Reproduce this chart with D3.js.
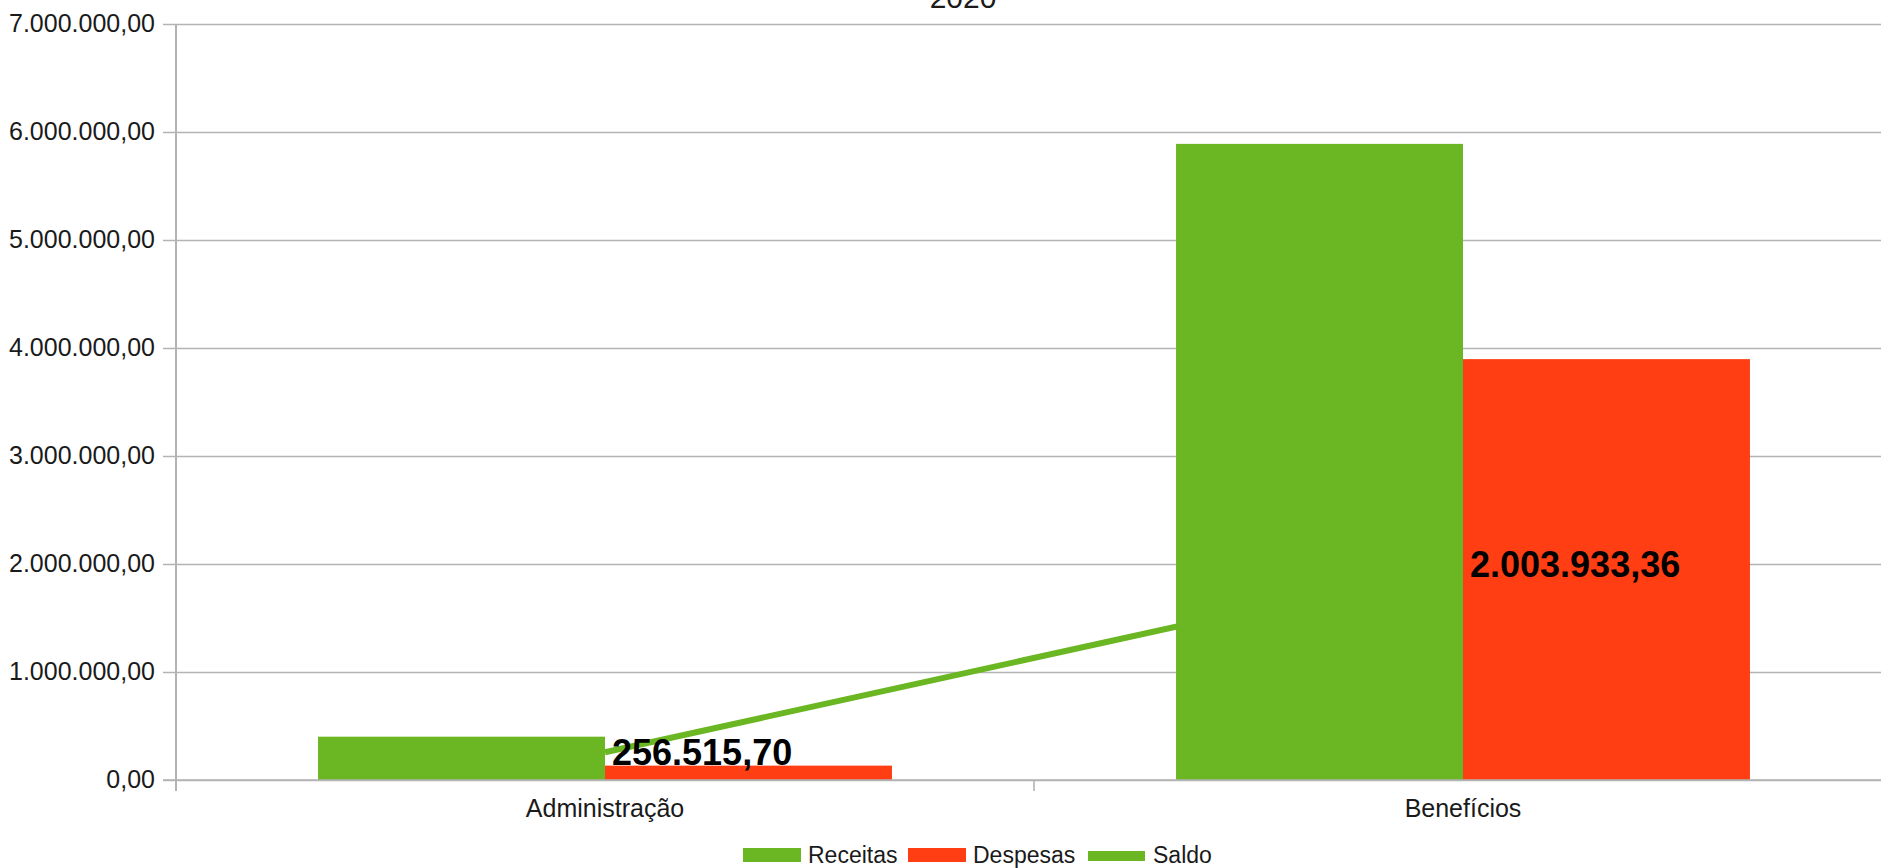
<!DOCTYPE html>
<html>
<head>
<meta charset="utf-8">
<script src="https://cdn.jsdelivr.net/npm/d3@7"></script>
<style>
  html, body { margin: 0; padding: 0; background: #fff; }
  svg { display: block; font-family: "Liberation Sans", Arial, sans-serif; }
</style>
</head>
<body>
<svg id="chart" width="1881" height="868"></svg>
<script>
const title = "2020";
const categories = ["Administração", "Benefícios"];
const seriesNames = ["Receitas", "Despesas", "Saldo"];
const receitas = [401000, 5890000];
const despesas = [133000, 3897000];
const saldo = [256515.70, 2003933.36];
const saldoLabels = ["256.515,70", "2.003.933,36"];
const yTicks = [0, 1000000, 2000000, 3000000, 4000000, 5000000, 6000000, 7000000];
const colors = { Receitas: "#6ab723", Despesas: "#ff3e13", Saldo: "#6ab723" };

(function () {
const svg = d3.select("#chart");
const pLeft = 176, pRight = 1892, pTop = 24, pBottom = 780;

const locale = d3.formatLocale({ decimal: ",", thousands: ".", grouping: [3], currency: ["R$ ", ""] });
const fmt = locale.format(",.2f");

const y = d3.scaleLinear().domain([0, 7000000]).range([pBottom, pTop]);
const x = d3.scaleBand().domain(categories).range([pLeft, pRight]).paddingInner(0).paddingOuter(0);
const xs = d3.scaleBand().domain(["Receitas", "Despesas"]).range([0, x.bandwidth()]).paddingInner(0).paddingOuter(0.495);

// gridlines + y axis
const yAxis = d3.axisLeft(y).tickValues(yTicks).tickFormat(fmt).tickSize(-(pRight - pLeft)).tickSizeOuter(0).tickPadding(21);
const gy = svg.append("g").attr("transform", `translate(${pLeft},0)`).call(yAxis);
gy.select(".domain").remove();
gy.selectAll(".tick line").attr("x1", -13).attr("stroke", "#b3b3b3").attr("stroke-width", 1.6);
gy.selectAll(".tick text").attr("font-size", 25).attr("fill", "#1a1a1a").attr("dy", "0.3em")
  .attr("font-family", "Liberation Sans, Arial, sans-serif");

// vertical axis line
svg.append("line").attr("x1", pLeft).attr("x2", pLeft).attr("y1", y(7000000)).attr("y2", pBottom + 11)
  .attr("stroke", "#b3b3b3").attr("stroke-width", 2);

// category ticks
const catBounds = [pLeft, x(categories[1]), pRight];
svg.selectAll("line.ctick").data(catBounds).enter().append("line").attr("class", "ctick")
  .attr("x1", d => d).attr("x2", d => d).attr("y1", pBottom).attr("y2", pBottom + 11)
  .attr("stroke", "#b3b3b3").attr("stroke-width", 1.6);

// category labels
svg.selectAll("text.cat").data(categories).enter().append("text").attr("class", "cat")
  .attr("x", d => x(d) + x.bandwidth() / 2).attr("y", 817)
  .attr("text-anchor", "middle").attr("font-size", 25).attr("fill", "#1a1a1a").text(d => d);

// Saldo line (behind bars)
const lineGen = d3.line().x((d, i) => x(categories[i]) + x.bandwidth() / 2).y(d => y(d));
svg.append("path").datum(saldo).attr("d", lineGen).attr("fill", "none")
  .attr("stroke", colors.Saldo).attr("stroke-width", 6);

// bars
const barData = [];
categories.forEach((c, i) => {
  barData.push({ cat: c, s: "Receitas", v: receitas[i] });
  barData.push({ cat: c, s: "Despesas", v: despesas[i] });
});
svg.selectAll("rect.bar").data(barData).enter().append("rect").attr("class", "bar")
  .attr("x", d => x(d.cat) + xs(d.s)).attr("width", xs.bandwidth())
  .attr("y", d => y(d.v)).attr("height", d => y(0) - y(d.v))
  .attr("fill", d => colors[d.s]);

// baseline redraw
svg.append("line").attr("x1", pLeft - 13).attr("x2", pRight).attr("y1", y(0)).attr("y2", y(0))
  .attr("stroke", "#b3b3b3").attr("stroke-width", 1.6);

// Saldo labels
svg.selectAll("text.lbl").data(saldo).enter().append("text").attr("class", "lbl")
  .attr("x", (d, i) => x(categories[i]) + x.bandwidth() / 2 + 7)
  .attr("y", d => y(d) + 13)
  .attr("font-size", 36).attr("font-weight", "bold").attr("fill", "#000")
  .text((d, i) => saldoLabels[i]);

// title (partly cut at the top edge, as in the reference)
svg.append("text").attr("x", 963).attr("y", 8).attr("text-anchor", "middle")
  .attr("font-size", 30).attr("fill", "#1a1a1a").text(title);

// legend
const legend = svg.append("g");
const items = [
  { name: "Receitas", type: "bar", x: 743 },
  { name: "Despesas", type: "bar", x: 908 },
  { name: "Saldo", type: "line", x: 1088 }
];
items.forEach(it => {
  if (it.type === "bar") {
    legend.append("rect").attr("x", it.x).attr("y", 848).attr("width", 58).attr("height", 14).attr("fill", colors[it.name]);
  } else {
    legend.append("rect").attr("x", it.x).attr("y", 851).attr("width", 57).attr("height", 10).attr("fill", colors[it.name]);
  }
  legend.append("text").attr("x", it.x + 65).attr("y", 863).attr("font-size", 23).attr("fill", "#1a1a1a").text(it.name);
});
})();
</script>
</body>
</html>
